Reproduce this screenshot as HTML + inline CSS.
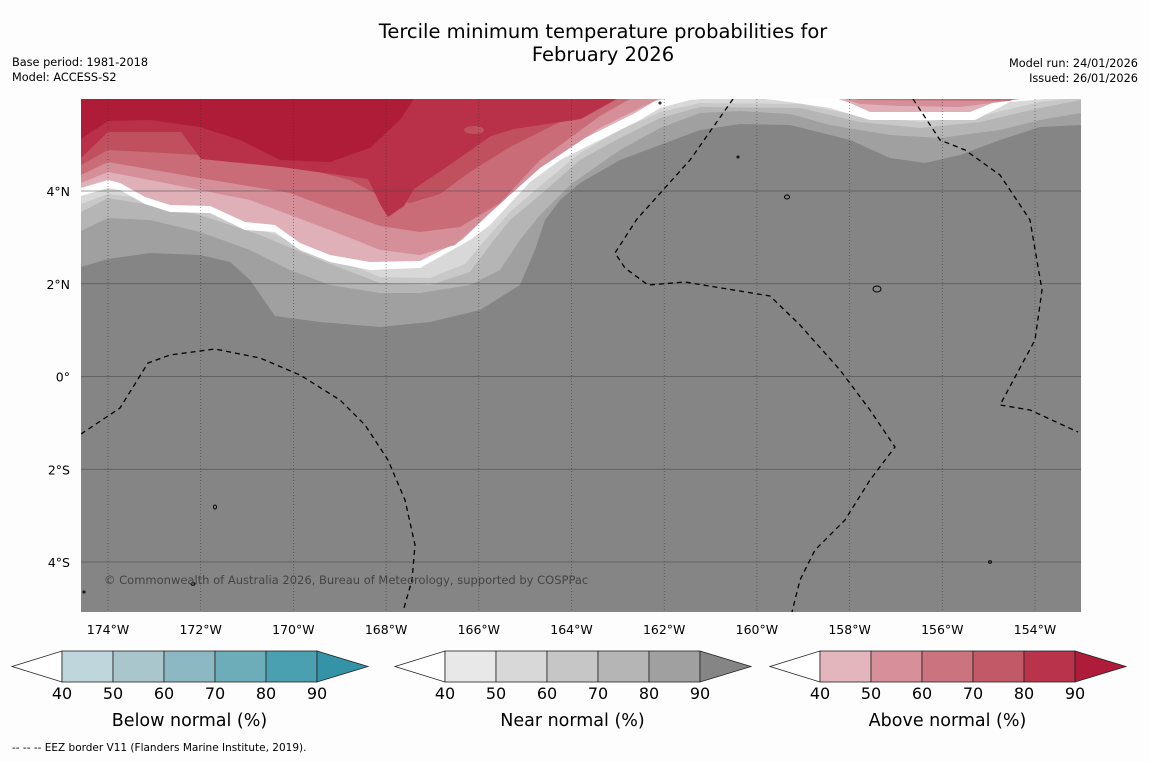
<!DOCTYPE html>
<html><head><meta charset="utf-8">
<style>
html,body{margin:0;padding:0;background:#fdfdfd;}
body{width:1150px;height:758px;overflow:hidden;font-family:"DejaVu Sans","Liberation Sans",sans-serif;}
svg text{font-family:"DejaVu Sans","Liberation Sans",sans-serif;}
</style></head>
<body>
<svg id="c" width="1150" height="758" xmlns="http://www.w3.org/2000/svg">
<text x="603" y="38" font-size="19.5" text-anchor="middle">Tercile minimum temperature probabilities for</text>
<text x="603" y="61" font-size="19.5" text-anchor="middle">February 2026</text>
<text x="12" y="66" font-size="11.3">Base period: 1981-2018</text>
<text x="12" y="81" font-size="11.3">Model: ACCESS-S2</text>
<text x="1138" y="67" font-size="11.3" text-anchor="end">Model run: 24/01/2026</text>
<text x="1138" y="82" font-size="11.3" text-anchor="end">Issued: 26/01/2026</text>
<defs><clipPath id="mapclip"><rect x="81" y="99" width="1000" height="513"/></clipPath></defs>
<g id="map" clip-path="url(#mapclip)">
<rect x="81" y="99" width="1000" height="513" fill="#858585"/>
</g>
<text x="104" y="584" font-size="11.5" fill="#444">© Commonwealth of Australia 2026, Bureau of Meteorology, supported by COSPPac</text>
<g id="axes"></g>
<g id="bars"></g>
<text x="12" y="751" font-size="10.5">--  --  -- EEZ border V11 (Flanders Marine Institute, 2019).</text>
</svg>
<script>
const lonTicks=[-174,-172,-170,-168,-166,-164,-162,-160,-158,-156,-154];
const latTicks=[4,2,0,-2,-4];
const cbTicks=[40,50,60,70,80,90];
const cbTitles=["Below normal (%)","Near normal (%)","Above normal (%)"];
const cbColors=[
 ["#ffffff","#bfd6dd","#a8c6cb","#8cb8c3","#6dacb9","#4a9fb0","#3493a7"],
 ["#ffffff","#e8e8e8","#d8d8d8","#c6c6c6","#b5b5b5","#a0a0a0","#858585"],
 ["#ffffff","#e3b6bd","#d78f9a","#cb737e","#c25967","#b9344b","#ae1c3a"]];
const cbLeft=[12,395,770];

const X=lon=>108+(lon+174)*46.35;
const Y=lat=>376.5-lat*46.375;
const NS='http://www.w3.org/2000/svg';
function mk(tag,parent){const e=document.createElementNS(NS,tag);parent.appendChild(e);return e;}
const map=document.getElementById('map');

const bands=[
 ["#a0a0a0",[[81,267],[108,259],[150,253],[200,255],[230,262],[250,280],[275,316],[320,322],[380,327],[430,322],[480,310],[520,285],[535,250],[545,220],[560,200],[580,183],[620,160],[660,145],[700,130],[740,124],[790,125],[850,140],[890,158],[925,163],[960,155],[1000,140],[1040,127],[1081,125]]],
 ["#b5b5b5",[[81,231],[108,218],[150,220],[200,232],[250,250],[290,270],[330,285],[380,293],[420,293],[470,285],[500,270],[520,240],[540,215],[570,185],[620,150],[660,128],[700,113],[740,111],[790,114],[830,125],[890,135],[940,138],[1000,130],[1040,120],[1081,113]]],
 ["#c8c8c8",[[81,212],[108,198],[150,205],[200,215],[260,235],[320,260],[380,283],[430,285],[470,272],[490,245],[510,220],[540,195],[580,160],[620,138],[660,118],[700,107],[800,108],[860,122],[920,128],[980,122],[1040,108],[1081,100]]],
 ["#d8d8d8",[[81,204],[108,194],[150,199],[200,209],[260,229],[320,252],[380,277],[430,278],[465,264],[485,240],[510,212],[540,186],[580,153],[620,130],[660,112],[700,103],[800,104],[860,116],[920,122],[980,116],[1040,102],[1081,97]]],
 ["#ffffff",[[81,196],[108,188],[120,190],[145,204],[170,212],[210,213],[245,230],[275,232],[300,250],[330,262],[370,270],[420,268],[470,240],[490,225],[530,182],[560,160],[600,140],[640,120],[660,108],[690,100],[740,96],[790,102],[830,108],[870,120],[975,120],[1010,102],[1081,96]]],
 ["#e0b0b8",[[81,188],[108,180],[120,183],[145,197],[170,205],[210,206],[245,222],[275,225],[300,243],[330,255],[370,262],[420,261],[462,240],[485,218],[525,175],[555,153],[595,133],[635,113],[655,101],[680,96],[830,96],[850,103],[870,112],[970,112],[1005,98],[1081,94]]],
 ["#d48f99",[[81,183],[108,172],[150,180],[250,200],[330,230],[380,250],[420,255],[455,245],[490,213],[540,168],[600,128],[640,108],[665,96],[835,96],[860,104],[900,106],[960,107],[1000,102],[1040,96]]],
 ["#c96c78",[[81,175],[108,162],[200,178],[290,193],[330,208],[380,226],[420,232],[460,227],[500,203],[540,160],[600,116],[630,99],[640,95],[835,95],[860,100],[1010,101],[1020,95]]],
 ["#c0505e",[[81,165],[108,150],[200,155],[290,165],[350,180],[380,196],[410,203],[440,194],[470,172],[510,147],[560,122],[600,106],[625,96]]],
 ["#b83148",[[81,158],[108,132],[181,132],[201,159],[281,167],[368,179],[381,206],[388,217],[404,206],[414,189],[448,166],[491,136],[514,129],[581,119],[615,100]]],
 ["#af1c38",[[81,139],[108,121],[150,120],[200,127],[240,140],[280,160],[330,162],[370,148],[400,120],[414,99]]]
];
bands.forEach((b,i)=>{
 const p=mk('polygon',map);
 const pts=b[1];
 const s=[[pts[0][0]-5,90],...pts,[pts[pts.length-1][0]+5,90]].map(q=>q.join(',')).join(' ');
 p.setAttribute('points',s);p.setAttribute('fill',b[0]);
 
 
});
const blob=mk('ellipse',map);blob.setAttribute('cx',474);blob.setAttribute('cy',130);blob.setAttribute('rx',10);blob.setAttribute('ry',4);blob.setAttribute('fill','#c0505e');



lonTicks.forEach(l=>{const e=mk('line',map);e.setAttribute('x1',X(l));e.setAttribute('x2',X(l));e.setAttribute('y1',99);e.setAttribute('y2',612);e.setAttribute('stroke','#333');e.setAttribute('stroke-width','0.7');e.setAttribute('stroke-dasharray','1,2');e.setAttribute('opacity','0.7');
 
 });
latTicks.forEach(l=>{const e=mk('line',map);e.setAttribute('x1',81);e.setAttribute('x2',1081);e.setAttribute('y1',Y(l));e.setAttribute('y2',Y(l));e.setAttribute('stroke','#444');e.setAttribute('stroke-width','0.8');e.setAttribute('opacity','0.7');
 
 });

const eez=[
 [[81,434],[120,408],[148,363],[170,355],[215,349],[260,358],[300,375],[340,400],[365,425],[388,460],[405,500],[415,545],[412,580],[404,608]],
 [[733,99],[690,160],[637,219],[615,253],[625,268],[648,285],[685,282],[770,296],[800,325],[840,370],[870,410],[895,447],[870,480],[845,520],[815,550],[800,580],[792,612]],
 [[913,99],[940,140],[965,150],[1000,175],[1030,220],[1042,290],[1035,340],[1000,405],[1030,410],[1078,432]]
];
eez.forEach(l=>{const e=mk('polyline',map);e.setAttribute('points',l.map(q=>q.join(',')).join(' '));e.setAttribute('fill','none');e.setAttribute('stroke','#000');e.setAttribute('stroke-width','1.3');e.setAttribute('stroke-dasharray','5,4');
 
 });
[[787,197,2.5,2],[877,289,4,3],[215,507,1.5,2],[193,584,2,1.2],[990,562,1.5,1.2],[84,592,1,1],[660,103,1,1],[738,157,1,1]].forEach(q=>{const e=mk('ellipse',map);e.setAttribute('cx',q[0]);e.setAttribute('cy',q[1]);e.setAttribute('rx',q[2]);e.setAttribute('ry',q[3]);e.setAttribute('fill','none');e.setAttribute('stroke','#000');e.setAttribute('stroke-width','1');
 
 });

const ax=document.getElementById('axes');
lonTicks.forEach(l=>{const t=mk('text',ax);t.setAttribute('x',X(l));t.setAttribute('y',634);t.setAttribute('font-size','12.5');t.setAttribute('text-anchor','middle');t.textContent=Math.abs(l)+'°W';
 
 });
latTicks.forEach(l=>{const t=mk('text',ax);t.setAttribute('x',70);t.setAttribute('y',Y(l)+5);t.setAttribute('font-size','12.5');t.setAttribute('text-anchor','end');t.textContent=l===0?'0°':Math.abs(l)+'°'+(l>0?'N':'S');
 
 });

const bars=document.getElementById('bars');
cbColors.forEach((cols,k)=>{
 const x0=cbLeft[k],y0=651,h=31,bw=51,bx=x0+50;
 const g=mk('g',bars);
 
 
 const lt=mk('polygon',g);lt.setAttribute('points',`${x0},${y0+h/2} ${bx},${y0} ${bx},${y0+h}`);lt.setAttribute('fill',cols[0]);lt.setAttribute('stroke','#222');lt.setAttribute('stroke-width','0.8');
 for(let i=0;i<5;i++){const r=mk('rect',g);r.setAttribute('x',bx+i*bw);r.setAttribute('y',y0);r.setAttribute('width',bw);r.setAttribute('height',h);r.setAttribute('fill',cols[i+1]);r.setAttribute('stroke','#222');r.setAttribute('stroke-width','0.8');}
 const rt=mk('polygon',g);rt.setAttribute('points',`${bx+5*bw},${y0} ${bx+5*bw+51},${y0+h/2} ${bx+5*bw},${y0+h}`);rt.setAttribute('fill',cols[6]);rt.setAttribute('stroke','#222');rt.setAttribute('stroke-width','0.8');
 cbTicks.forEach((v,i)=>{const t=mk('text',g);t.setAttribute('x',bx+i*bw);t.setAttribute('y',699);t.setAttribute('font-size','16');t.setAttribute('text-anchor','middle');t.textContent=v;
  
  });
 const tt=mk('text',g);tt.setAttribute('x',bx+2.5*bw);tt.setAttribute('y',726);tt.setAttribute('font-size','17.5');tt.setAttribute('text-anchor','middle');tt.textContent=cbTitles[k];
 
 
});
</script>
</body></html>
